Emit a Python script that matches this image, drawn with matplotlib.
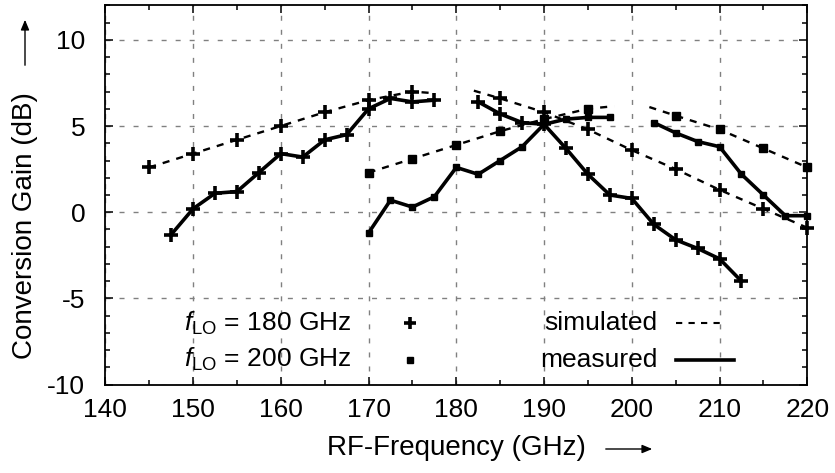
import matplotlib
matplotlib.use('Agg')
import matplotlib.pyplot as plt
from matplotlib.ticker import MultipleLocator

plt.rcParams['font.family'] = ['Liberation Sans', 'DejaVu Sans']
plt.rcParams['mathtext.fontset'] = 'custom'
plt.rcParams['mathtext.rm'] = 'Liberation Sans'
plt.rcParams['mathtext.it'] = 'Liberation Sans:italic'
plt.rcParams['axes.unicode_minus'] = False

# ── data (GHz, dB) ──
# f_LO = 180 GHz, simulated (lower / upper sideband)
sim180_lo_f = [145, 150, 155, 160, 165, 170, 175, 177.5]
sim180_lo_g = [2.6, 3.4, 4.2, 5.0, 5.8, 6.5, 7.0, 6.9]
sim180_hi_f = [182, 185, 190, 195, 200, 205, 210, 215, 220]
sim180_hi_g = [7.05, 6.6, 5.8, 4.8, 3.6, 2.5, 1.3, 0.2, -0.9]

# f_LO = 180 GHz, measured
meas180_lo_f = [147.5, 150, 152.5, 155, 157.5, 160, 162.5, 165, 167.5, 170, 172.5, 175, 177.5]
meas180_lo_g = [-1.3, 0.2, 1.1, 1.2, 2.3, 3.4, 3.2, 4.2, 4.5, 6.0, 6.6, 6.4, 6.5]
meas180_hi_f = [182.5, 185, 187.5, 190, 192.5, 195, 197.5, 200, 202.5, 205, 207.5, 210, 212.5]
meas180_hi_g = [6.4, 5.7, 5.2, 5.1, 3.7, 2.2, 1.0, 0.8, -0.7, -1.6, -2.1, -2.7, -4.0]

# f_LO = 200 GHz, simulated
sim200_lo_f = [170, 175, 180, 185, 190, 195, 198]
sim200_lo_g = [2.3, 3.1, 3.9, 4.7, 5.4, 6.0, 6.15]
sim200_hi_f = [202, 205, 210, 215, 220]
sim200_hi_g = [6.1, 5.6, 4.8, 3.7, 2.6]

# f_LO = 200 GHz, measured
meas200_lo_f = [170, 172.5, 175, 177.5, 180, 182.5, 185, 187.5, 190, 192.5, 195, 197.5]
meas200_lo_g = [-1.2, 0.7, 0.3, 0.9, 2.6, 2.2, 3.0, 3.8, 5.1, 5.4, 5.5, 5.5]
meas200_hi_f = [202.5, 205, 207.5, 210, 212.5, 215, 217.5, 220]
meas200_hi_g = [5.2, 4.6, 4.1, 3.8, 2.2, 1.0, -0.2, -0.2]

FS = 19
W, H = 835, 473

fig = plt.figure(figsize=(W / 100, H / 100), dpi=100)
ax = fig.add_axes([105.3 / W, 1 - 384.7 / H, 702.0 / W, 379.4 / H])

dash_sim = (0, (3.0, 3.0))
plus = dict(marker='+', markersize=10, markeredgewidth=2.6)
sim_kw = dict(color='black', lw=1.7, linestyle=dash_sim, clip_on=False, zorder=3)
meas_kw = dict(color='black', lw=2.6, linestyle='-', clip_on=False, zorder=4)

# simulated, f_LO = 180
ax.plot(sim180_lo_f, sim180_lo_g, markevery=list(range(7)), **plus, **sim_kw)
ax.plot(sim180_hi_f, sim180_hi_g, markevery=list(range(1, 9)), **plus, **sim_kw)
# simulated, f_LO = 200
ax.plot(sim200_lo_f, sim200_lo_g, marker='s', markersize=6, markevery=list(range(6)), **sim_kw)
ax.plot(sim200_hi_f, sim200_hi_g, marker='s', markersize=6, markevery=list(range(1, 5)), **sim_kw)
# measured
ax.plot(meas180_lo_f, meas180_lo_g, **plus, **meas_kw)
ax.plot(meas180_hi_f, meas180_hi_g, **plus, **meas_kw)
ax.plot(meas200_lo_f, meas200_lo_g, marker='s', markersize=5, **meas_kw)
ax.plot(meas200_hi_f, meas200_hi_g, marker='s', markersize=5, **meas_kw)

ax.set_xlim(140, 220)
ax.set_ylim(-10, 12)
ax.xaxis.set_major_locator(MultipleLocator(10))
ax.xaxis.set_minor_locator(MultipleLocator(5))
ax.yaxis.set_major_locator(MultipleLocator(5))
ax.yaxis.set_minor_locator(MultipleLocator(1))
ax.tick_params(which='both', direction='in', top=True, right=True, width=1.1)
ax.tick_params(which='major', length=6)
ax.tick_params(which='minor', length=3.3)
ax.tick_params(axis='x', which='major', pad=9.5, labelsize=FS)
ax.tick_params(axis='y', which='major', pad=14.5, labelsize=FS)
ax.grid(True, which='major', color='#808080', lw=1.0, linestyle=(0, (3.6, 6.5)))
ax.set_axisbelow(True)
for s in ax.spines.values():
    s.set_linewidth(1.3)

# legend drawn by hand (as in the original)
ax.text(149.0, -6.85, r'$f_{\rm LO}$ = 180 GHz', fontsize=FS, ha='left', va='baseline')
ax.text(149.0, -8.95, r'$f_{\rm LO}$ = 200 GHz', fontsize=FS, ha='left', va='baseline')
ax.plot([174.7], [-6.45], marker='+', markersize=8, markeredgewidth=2.6, color='black')
ax.plot([174.7], [-8.55], marker='s', markersize=4.5, color='black')
ax.text(202.9, -6.85, 'simulated', fontsize=FS, ha='right', va='baseline')
ax.text(202.9, -8.95, 'measured', fontsize=FS, ha='right', va='baseline')
ax.plot([205.0, 210.7], [-6.4, -6.4], color='black', lw=1.5, linestyle=(0, (3.0, 3.0)))
ax.plot([205.0, 211.6], [-8.55, -8.55], color='black', lw=2.6)

# axis labels with arrows
fig.text(456 / W, 1 - 448 / H, 'RF-Frequency (GHz)', fontsize=FS + 1, ha='center', va='center')
fig.text(25 / W, 1 - 226 / H, 'Conversion Gain (dB)', fontsize=FS + 1, ha='center',
         va='center', rotation=90)
fig.add_artist(matplotlib.patches.FancyArrowPatch(
    (603 / W, 1 - 449 / H), (655 / W, 1 - 449 / H), transform=fig.transFigure,
    arrowstyle='-|>,head_length=6,head_width=2.5', color='black', lw=1.0))
fig.add_artist(matplotlib.patches.FancyArrowPatch(
    (25 / W, 1 - 68 / H), (25 / W, 1 - 17 / H), transform=fig.transFigure,
    arrowstyle='-|>,head_length=6,head_width=2.5', color='black', lw=1.0))

fig.savefig('out.png', dpi=100, facecolor='white')
